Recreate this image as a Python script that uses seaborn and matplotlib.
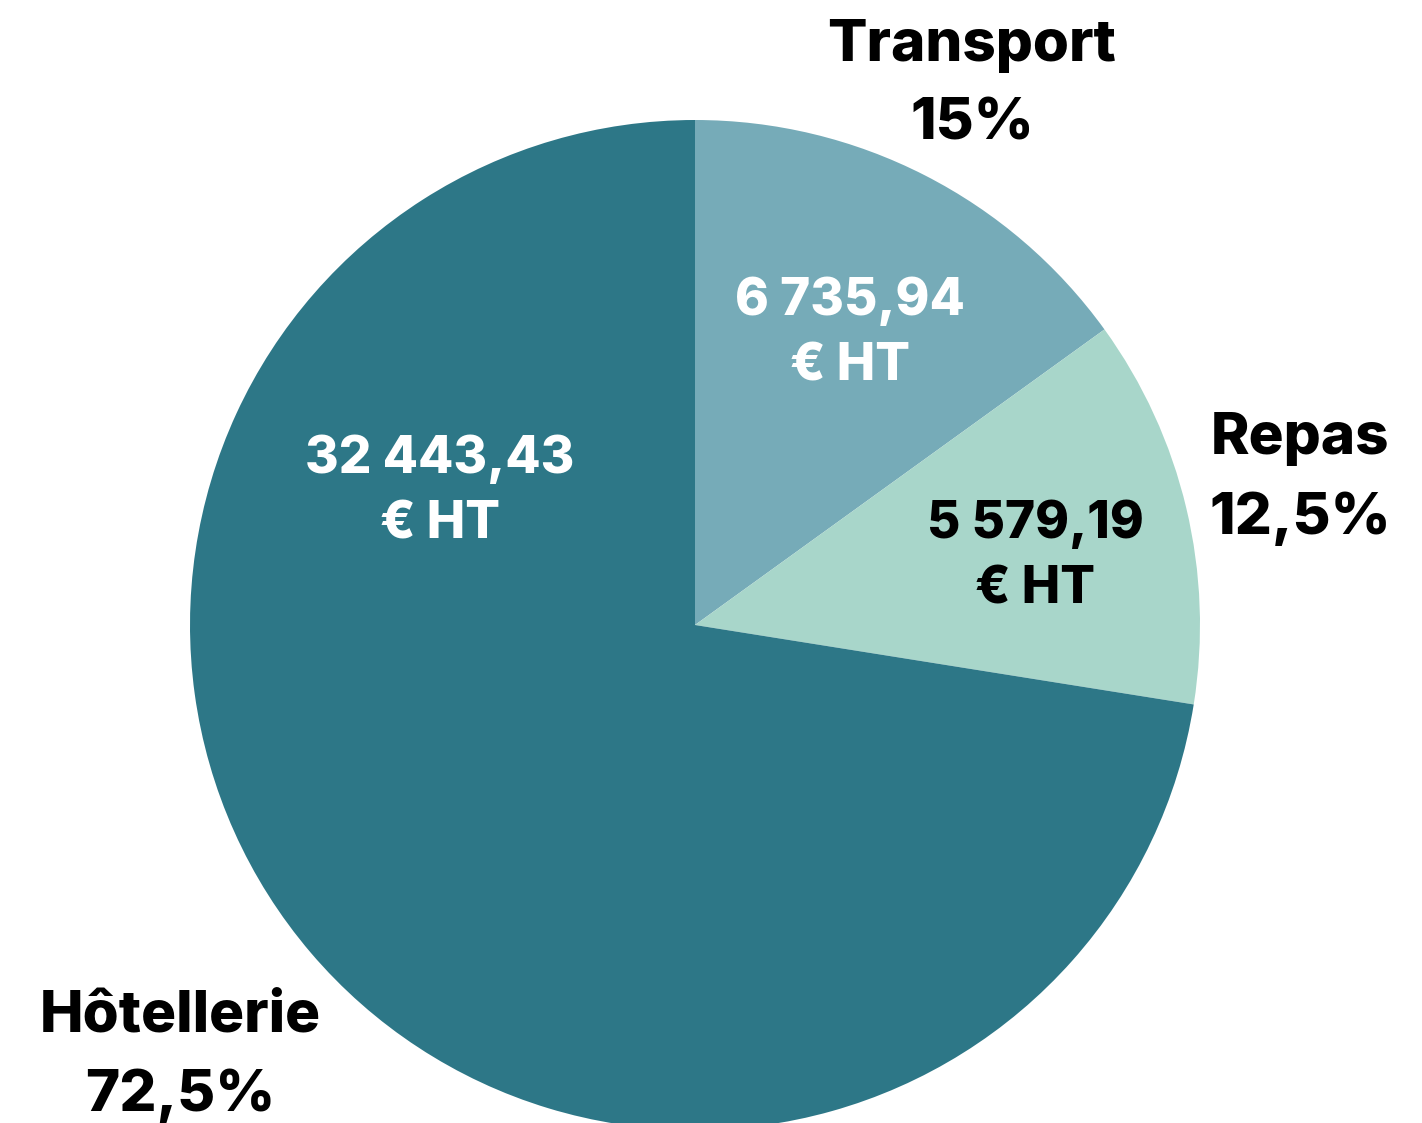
"""
Répartition des frais HT : pie chart Transport / Repas / Hôtellerie.
"""

import matplotlib.pyplot as plt
import seaborn as sns

CATEGORIES = ["Transport", "Repas", "Hôtellerie"]
AMOUNTS = [6735.94, 5579.19, 32443.43]
PCT_LABELS = ["15%", "12,5%", "72,5%"]
AMOUNT_LABELS = ["6 735,94", "5 579,19", "32 443,43"]

COLORS = ["#76abb8", "#a8d6ca", "#2d7787"]
INNER_TEXT = ["white", "black", "white"]

# label anchors, pixel coords (x, y from top)
OUTER_POS = [(972, 85), (1300, 479), (180, 1056)]
INNER_POS = [(850, 334), (1035, 557), (440, 492)]


def main():
    sns.set_theme(style="white")
    plt.rcParams["font.family"] = ["Inter", "DejaVu Sans"]

    W, H = 1422, 1123
    fig = plt.figure(figsize=(W / 100, H / 100), dpi=100)
    ax = fig.add_axes([0, 0, 1, 1])

    ax.pie(
        AMOUNTS, colors=COLORS, startangle=90, counterclock=False,
        center=(695, H - 625), radius=505, frame=True,
        wedgeprops=dict(linewidth=0),
    )
    ax.set_xlim(0, W)
    ax.set_ylim(0, H)
    ax.set_aspect("equal")
    ax.axis("off")

    for cat, pct, (x, y) in zip(CATEGORIES, PCT_LABELS, OUTER_POS):
        ax.text(x, H - y, f"{cat}\n{pct}", ha="center", va="center",
                fontsize=42, fontweight=800, color="black",
                linespacing=1.58)

    for amt, col, (x, y) in zip(AMOUNT_LABELS, INNER_TEXT, INNER_POS):
        ax.text(x, H - y, f"{amt}\n€ HT", ha="center", va="center",
                fontsize=37, fontweight=800, color=col,
                linespacing=1.42)

    fig.savefig("out.png", dpi=100, facecolor="white")
    plt.close(fig)


if __name__ == "__main__":
    main()
